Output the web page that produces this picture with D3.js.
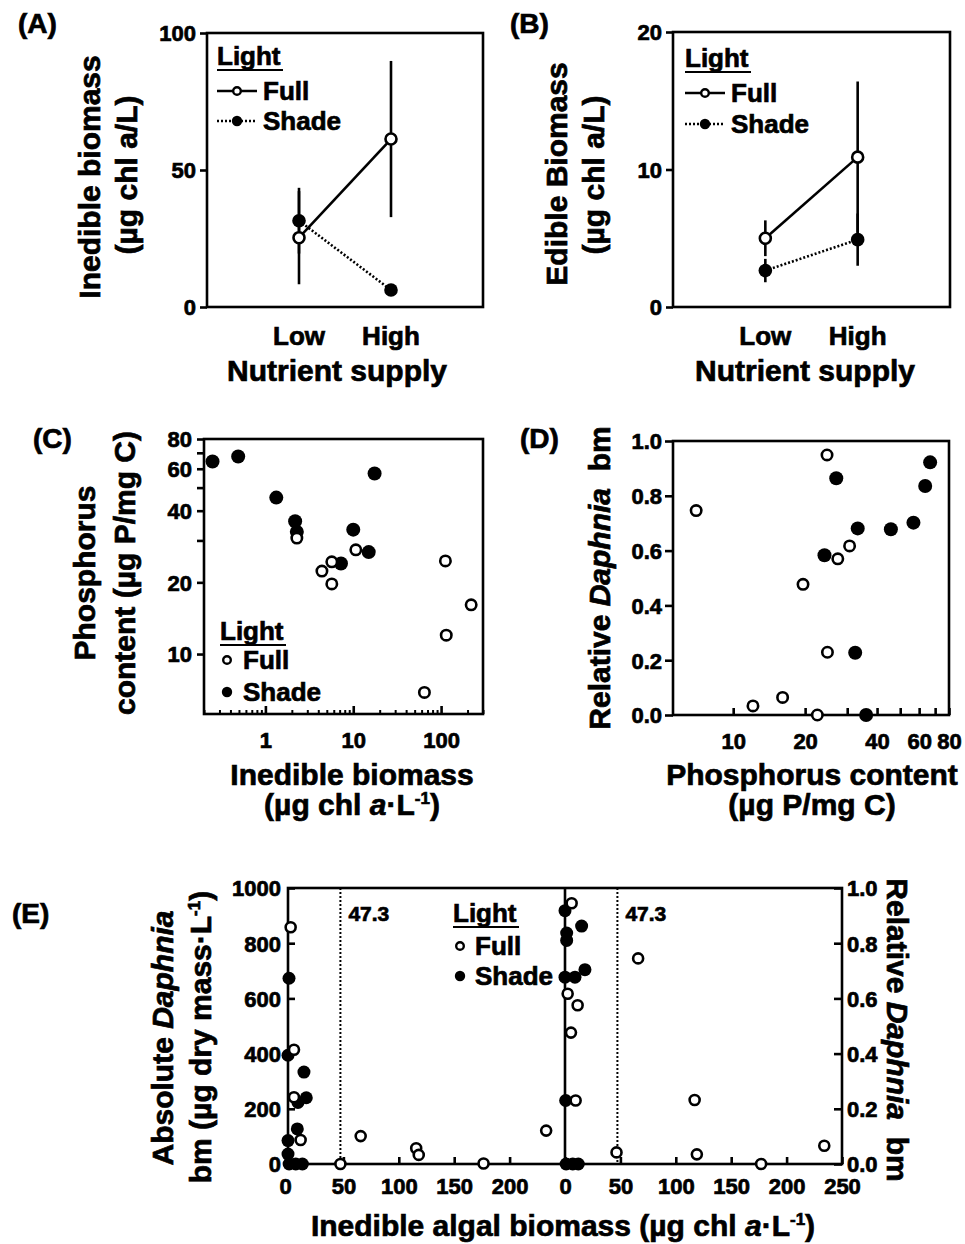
<!DOCTYPE html>
<html><head><meta charset="utf-8">
<script src="https://cdnjs.cloudflare.com/ajax/libs/d3/7.8.5/d3.min.js"></script>
<style>
body{margin:0;background:#fff;}
text{font-family:"Liberation Sans",Arial,Helvetica,sans-serif;font-weight:bold;fill:#000;stroke:#000;stroke-width:0.7px;}
</style></head><body>
<script>
// ---------- DATA ----------
const nutrientLevels = ["Low", "High"];
// Panel A: inedible biomass (µg chl a/L)
const aFullMean = [25.3, 61.3];
const aFullErr = [17, 28.5];
const aShadeMean = [31.5, 6.2];
const aShadeErr = [12, 1];
const aTicks = [0, 50, 100];
// Panel B: edible biomass
const bFullMean = [5.0, 10.9];
const bFullErr = [1.3, 5.5];
const bShadeMean = [2.65, 4.9];
const bShadeErr = [0.85, 1.9];
const bTicks = [0, 10, 20];
// Panel C: inedible biomass vs phosphorus content
const cFullBiomass = [2.28, 4.4, 5.7, 5.7, 10.7, 64.6, 112, 114.5, 220];
const cFullP = [30.7, 22.3, 24.4, 19.7, 27.4, 6.9, 24.6, 12.0, 16.1];
const cShadeBiomass = [0.25, 0.49, 1.33, 2.18, 2.28, 7.25, 10, 15, 17.5];
const cShadeP = [64.4, 67.5, 45.4, 36.1, 32.6, 24, 33.3, 26.8, 57.3];
const cXLabels = [1, 10, 100];
const cYLabels = [10, 20, 40, 60, 80];
// Panel D: phosphorus content vs relative Daphnia bm
const dFullP = [7.0, 12.1, 16.1, 19.6, 22.5, 24.7, 24.8, 27.4, 30.7];
const dFullRel = [0.746, 0.033, 0.064, 0.477, 0.0, 0.949, 0.229, 0.570, 0.617];
const dShadeP = [24.1, 27, 32.4, 33.2, 36, 45.7, 56.8, 63.6, 66.7];
const dShadeRel = [0.583, 0.864, 0.227, 0.681, 0.0, 0.678, 0.702, 0.836, 0.922];
const dXLabels = [10, 20, 40, 60, 80];
const dYTicks = [0, 0.2, 0.4, 0.6, 0.8, 1.0];
// Panel E: inedible algal biomass vs absolute / relative Daphnia bm
const eAbsFullX = [2.4, 5.4, 5.4, 11.4, 47.3, 65.6, 115.7, 118, 176.5, 233];
const eAbsFullY = [858, 414, 242, 87, 0, 101, 57, 33, 2, 121];
const eAbsShadeX = [0.9, 0, 14.4, 16.5, 9, 8.4, 0, 0, 1, 7, 13];
const eAbsShadeY = [673, 394, 333, 240, 223, 127, 85, 36, 0, 0, 0];
const eRelFullX = [6, 66, 2.4, 11.4, 5.4, 9.6, 117, 46.5, 119, 177, 234];
const eRelFullY = [0.945, 0.745, 0.617, 0.575, 0.476, 0.23, 0.232, 0.042, 0.035, 0, 0.066];
const eRelShadeX = [0, 15, 1.5, 1.5, 0, 9, 18, 0.6, 1, 7, 12];
const eRelShadeY = [0.918, 0.862, 0.837, 0.81, 0.677, 0.677, 0.704, 0.23, 0, 0, 0];
const eThreshold = 47.3;
const eAbsTicks = [0, 200, 400, 600, 800, 1000];
const eRelTicks = [0, 0.2, 0.4, 0.6, 0.8, 1.0];
const eLeftXTicks = [0, 50, 100, 150, 200];
const eRightXTicks = [0, 50, 100, 150, 200, 250];

// ---------- HELPERS ----------
const svg = d3.select("body").append("svg").attr("width", 965).attr("height", 1244);
const SW = 2.6;
const TFS = 22; // tick label font size

function styleAxis(g, fs) {
  g.attr("font-family", null).attr("font-size", fs);
  g.select(".domain").remove();
  g.selectAll(".tick line").attr("stroke", "#000").attr("stroke-width", SW);
  g.selectAll(".tick text").attr("fill", "#000");
}
function box(x0, y0, x1, y1) {
  svg.append("rect").attr("x", x0).attr("y", y0).attr("width", x1 - x0).attr("height", y1 - y0)
    .attr("fill", "none").attr("stroke", "#000").attr("stroke-width", SW);
}
function txt(x, y, s, fs, anchor, rot) {
  const t = svg.append("text").attr("font-size", fs).attr("text-anchor", anchor || "start");
  if (rot) t.attr("transform", `translate(${x},${y}) rotate(${rot})`);
  else t.attr("x", x).attr("y", y);
  return t.text(s);
}
function richText(x, y, parts, fs, anchor, rot) {
  const t = svg.append("text").attr("font-size", fs).attr("text-anchor", anchor || "start");
  if (rot) t.attr("transform", `translate(${x},${y}) rotate(${rot})`);
  else t.attr("x", x).attr("y", y);
  parts.forEach(p => {
    const sp = t.append("tspan").text(p.t);
    if (p.i) sp.attr("font-style", "italic");
    if (p.fs) sp.attr("font-size", p.fs);
    if (p.dy) sp.attr("dy", p.dy);
  });
  return t;
}
function points(xs, ys, xs_, ys_, filled, r) {
  svg.append("g").selectAll("circle").data(d3.zip(xs, ys)).join("circle")
    .attr("cx", d => xs_(d[0])).attr("cy", d => ys_(d[1])).attr("r", r)
    .attr("fill", filled ? "#000" : "#fff").attr("stroke", "#000")
    .attr("stroke-width", filled ? 0 : 2.6);
}
function legend(x, yTitle, yFull, yShade, withLines, textX, fs) {
  txt(x, yTitle, "Light", fs);
  svg.append("line").attr("x1", x).attr("x2", x + 66).attr("y1", yTitle + 5).attr("y2", yTitle + 5)
    .attr("stroke", "#000").attr("stroke-width", 2.2);
  const cx = withLines ? x + 20 : x + 7;
  if (withLines) {
    svg.append("line").attr("x1", x).attr("x2", x + 40).attr("y1", yFull).attr("y2", yFull)
      .attr("stroke", "#000").attr("stroke-width", SW);
    svg.append("line").attr("x1", x).attr("x2", x + 40).attr("y1", yShade).attr("y2", yShade)
      .attr("stroke", "#000").attr("stroke-width", SW).attr("stroke-dasharray", "2,2");
  }
  svg.append("circle").attr("cx", cx).attr("cy", yFull).attr("r", 3.8).attr("fill", "#fff")
    .attr("stroke", "#000").attr("stroke-width", 2.4);
  svg.append("circle").attr("cx", cx).attr("cy", yShade).attr("r", 5.2).attr("fill", "#000");
  txt(textX, yFull + 9, "Full", fs);
  txt(textX, yShade + 9, "Shade", fs);
}

// ---------- PANELS A & B ----------
function meanPanel(cfg) {
  const x = d3.scalePoint().domain(nutrientLevels).range([cfg.x0, cfg.x1]).padding(1);
  const y = d3.scaleLinear().domain(cfg.dom).range([cfg.y1, cfg.y0]);
  box(cfg.x0, cfg.y0, cfg.x1, cfg.y1);
  const ga = svg.append("g").attr("transform", `translate(${cfg.x0},0)`)
    .call(d3.axisLeft(y).tickValues(cfg.ticks).tickSize(7).tickPadding(4));
  styleAxis(ga, TFS);
  ga.selectAll(".tick text").attr("dy", "0.36em");
  nutrientLevels.forEach(n => txt(x(n), 345, n, 26, "middle"));
  const line = d3.line().x((d, i) => x(nutrientLevels[i])).y(d => y(d));
  svg.append("path").attr("d", line(cfg.full)).attr("fill", "none").attr("stroke", "#000").attr("stroke-width", SW);
  svg.append("path").attr("d", line(cfg.shade)).attr("fill", "none").attr("stroke", "#000")
    .attr("stroke-width", SW).attr("stroke-dasharray", "2,2");
  [[cfg.full, cfg.fullErr], [cfg.shade, cfg.shadeErr]].forEach(([m, e]) => {
    m.forEach((v, i) => {
      svg.append("line").attr("x1", x(nutrientLevels[i])).attr("x2", x(nutrientLevels[i]))
        .attr("y1", y(v - e[i])).attr("y2", y(v + e[i])).attr("stroke", "#000").attr("stroke-width", 2.6);
    });
  });
  svg.append("g").selectAll("circle").data(d3.zip(nutrientLevels, cfg.shade)).join("circle")
    .attr("cx", d => x(d[0])).attr("cy", d => y(d[1])).attr("r", 6.8).attr("fill", "#000");
  svg.append("g").selectAll("circle").data(d3.zip(nutrientLevels, cfg.full)).join("circle")
    .attr("cx", d => x(d[0])).attr("cy", d => y(d[1])).attr("r", 5.5).attr("fill", "#fff")
    .attr("stroke", "#000").attr("stroke-width", 2.6);
}
meanPanel({x0: 207, x1: 483, y0: 33, y1: 307, dom: [0, 100], ticks: aTicks,
  full: aFullMean, fullErr: aFullErr, shade: aShadeMean, shadeErr: aShadeErr});
meanPanel({x0: 673, x1: 950, y0: 32, y1: 307, dom: [0, 20], ticks: bTicks,
  full: bFullMean, fullErr: bFullErr, shade: bShadeMean, shadeErr: bShadeErr});
legend(217, 65, 91, 121, true, 263, 26);
legend(685, 67, 93, 124, true, 731, 26);
txt(18, 33, "(A)", 28);
txt(510, 33, "(B)", 28);
txt(100, 177, "Inedible biomass", 30, "middle", -90);
txt(137, 175, "(µg chl a/L)", 30, "middle", -90);
txt(567, 174, "Edible Biomass", 30, "middle", -90);
txt(604, 175, "(µg chl a/L)", 30, "middle", -90);
txt(337, 381, "Nutrient supply", 30, "middle");
txt(805, 381, "Nutrient supply", 30, "middle");

// ---------- PANEL C ----------
{
  const x0 = 204, x1 = 483, y0 = 439, y1 = 714;
  const x = d3.scaleLog().domain([0.2, 300]).range([x0, x1]);
  const y = d3.scaleLog().domain([5.6, 80]).range([y1, y0]);
  box(x0, y0, x1, y1);
  const yTicks = [10, 20, 30, 40, 50, 60, 70, 80];
  const gy = svg.append("g").attr("transform", `translate(${x0},0)`)
    .call(d3.axisLeft(y).tickValues(yTicks).tickSize(7).tickPadding(5)
      .tickFormat(d => cYLabels.includes(d) ? d : ""));
  styleAxis(gy, TFS);
  gy.selectAll(".tick text").attr("dy", "0.36em");
  const minor = [];
  [0.1, 1, 10, 100].forEach(dec => { for (let k = 2; k <= 9; k++) { const v = dec * k; if (v >= 0.2 && v <= 300) minor.push(v); } });
  const gm = svg.append("g").attr("transform", `translate(0,${y1})`)
    .call(d3.axisBottom(x).tickValues(minor).tickSize(-4).tickFormat(""));
  styleAxis(gm, TFS);
  gm.selectAll(".tick line").attr("stroke-width", 2);
  const gx = svg.append("g").attr("transform", `translate(0,${y1})`)
    .call(d3.axisBottom(x).tickValues(cXLabels).tickSize(-8).tickPadding(18).tickFormat(d3.format("d")));
  styleAxis(gx, TFS);
  points(cShadeBiomass, cShadeP, x, y, true, 7);
  points(cFullBiomass, cFullP, x, y, false, 5.2);
  legend(220, 640, 660, 692, false, 243, 26);
  txt(33, 448, "(C)", 28);
  txt(95, 573, "Phosphorus", 30, "middle", -90);
  txt(135, 573, "content (µg P/mg C)", 30, "middle", -90);
  txt(352, 785, "Inedible biomass", 30, "middle");
  richText(352, 815, [{t: "(µg chl "}, {t: "a", i: true}, {t: "·L"}, {t: "-1", fs: 17, dy: -11}, {t: ")", dy: 11}], 30, "middle");
}

// ---------- PANEL D ----------
{
  const x0 = 673, x1 = 949, y0 = 441, y1 = 715;
  const x = d3.scaleLog().domain([5.6, 80]).range([x0, x1]);
  const y = d3.scaleLinear().domain([0, 1]).range([y1, y0]);
  box(x0, y0, x1, y1);
  const gy = svg.append("g").attr("transform", `translate(${x0},0)`)
    .call(d3.axisLeft(y).tickValues(dYTicks).tickSize(8).tickPadding(3).tickFormat(d3.format(".1f")));
  styleAxis(gy, TFS);
  gy.selectAll(".tick text").attr("dy", "0.36em");
  const xt = [10, 20, 30, 40, 50, 60, 70, 80];
  const gx = svg.append("g").attr("transform", `translate(0,${y1})`)
    .call(d3.axisBottom(x).tickValues(xt).tickSize(-7).tickPadding(18)
      .tickFormat(d => dXLabels.includes(d) ? d : ""));
  styleAxis(gx, TFS);
  points(dShadeP, dShadeRel, x, y, true, 7);
  points(dFullP, dFullRel, x, y, false, 5.2);
  txt(520, 448, "(D)", 28);
  richText(610, 578, [{t: "Relative "}, {t: "Daphnia", i: true}, {t: "\u00a0 bm"}], 30, "middle", -90);
  txt(812, 785, "Phosphorus content", 30, "middle");
  txt(812, 815, "(µg P/mg C)", 30, "middle");
}

// ---------- PANEL E ----------
{
  const xL0 = 288, xMid = 565, xR1 = 842, y0 = 888, y1 = 1164;
  const xl = d3.scaleLinear().domain([0, 250]).range([xL0, xMid]);
  const xr = d3.scaleLinear().domain([0, 250]).range([xMid, xR1]);
  const ya = d3.scaleLinear().domain([0, 1000]).range([y1, y0]);
  const yr = d3.scaleLinear().domain([0, 1]).range([y1, y0]);
  box(xL0, y0, xR1, y1);
  svg.append("line").attr("x1", xMid).attr("x2", xMid).attr("y1", y0).attr("y2", y1)
    .attr("stroke", "#000").attr("stroke-width", SW);
  [xl, xr].forEach(sc => {
    svg.append("line").attr("x1", sc(eThreshold)).attr("x2", sc(eThreshold)).attr("y1", y0).attr("y2", y1)
      .attr("stroke", "#000").attr("stroke-width", 2).attr("stroke-dasharray", "2,2");
    txt(sc(eThreshold) + 8, 921, String(eThreshold), 21);
  });
  const gya = svg.append("g").attr("transform", `translate(${xL0},0)`)
    .call(d3.axisLeft(ya).tickValues(eAbsTicks).tickSize(-7).tickPadding(7).tickFormat(d3.format("d")));
  styleAxis(gya, TFS);
  gya.selectAll(".tick text").attr("dy", "0.36em");
  const gyr = svg.append("g").attr("transform", `translate(${xR1},0)`)
    .call(d3.axisRight(yr).tickValues(eRelTicks).tickSize(-8).tickPadding(5).tickFormat(d3.format(".1f")));
  styleAxis(gyr, TFS);
  gyr.selectAll(".tick text").attr("dy", "0.36em");
  const gxl = svg.append("g").attr("transform", `translate(0,${y1})`)
    .call(d3.axisBottom(xl).tickValues(eLeftXTicks).tickSize(-7).tickPadding(14));
  styleAxis(gxl, TFS);
  gxl.select(".tick text").attr("dx", -3);
  const gxr = svg.append("g").attr("transform", `translate(0,${y1})`)
    .call(d3.axisBottom(xr).tickValues(eRightXTicks).tickSize(-7).tickPadding(14));
  styleAxis(gxr, TFS);
  points(eAbsShadeX, eAbsShadeY, xl, ya, true, 6.5);
  points(eAbsFullX, eAbsFullY, xl, ya, false, 5);
  points(eRelShadeX, eRelShadeY, xr, yr, true, 6.5);
  points(eRelFullX, eRelFullY, xr, yr, false, 5);
  legend(453, 922, 946, 976, false, 475, 26);
  txt(12, 923, "(E)", 28);
  richText(173, 1038, [{t: "Absolute "}, {t: "Daphnia", i: true}], 30, "middle", -90);
  richText(211, 1037, [{t: "bm (µg dry mass·L"}, {t: "-1", fs: 17, dy: -11}, {t: ")", dy: 11}], 30, "middle", -90);
  richText(887, 1030, [{t: "Relative "}, {t: "Daphnia", i: true}, {t: "\u00a0 bm"}], 30, "middle", 90);
  richText(563, 1236, [{t: "Inedible algal biomass (µg chl "}, {t: "a", i: true}, {t: "·L"}, {t: "-1", fs: 17, dy: -11}, {t: ")", dy: 11}], 30, "middle");
}
</script>
</body></html>
